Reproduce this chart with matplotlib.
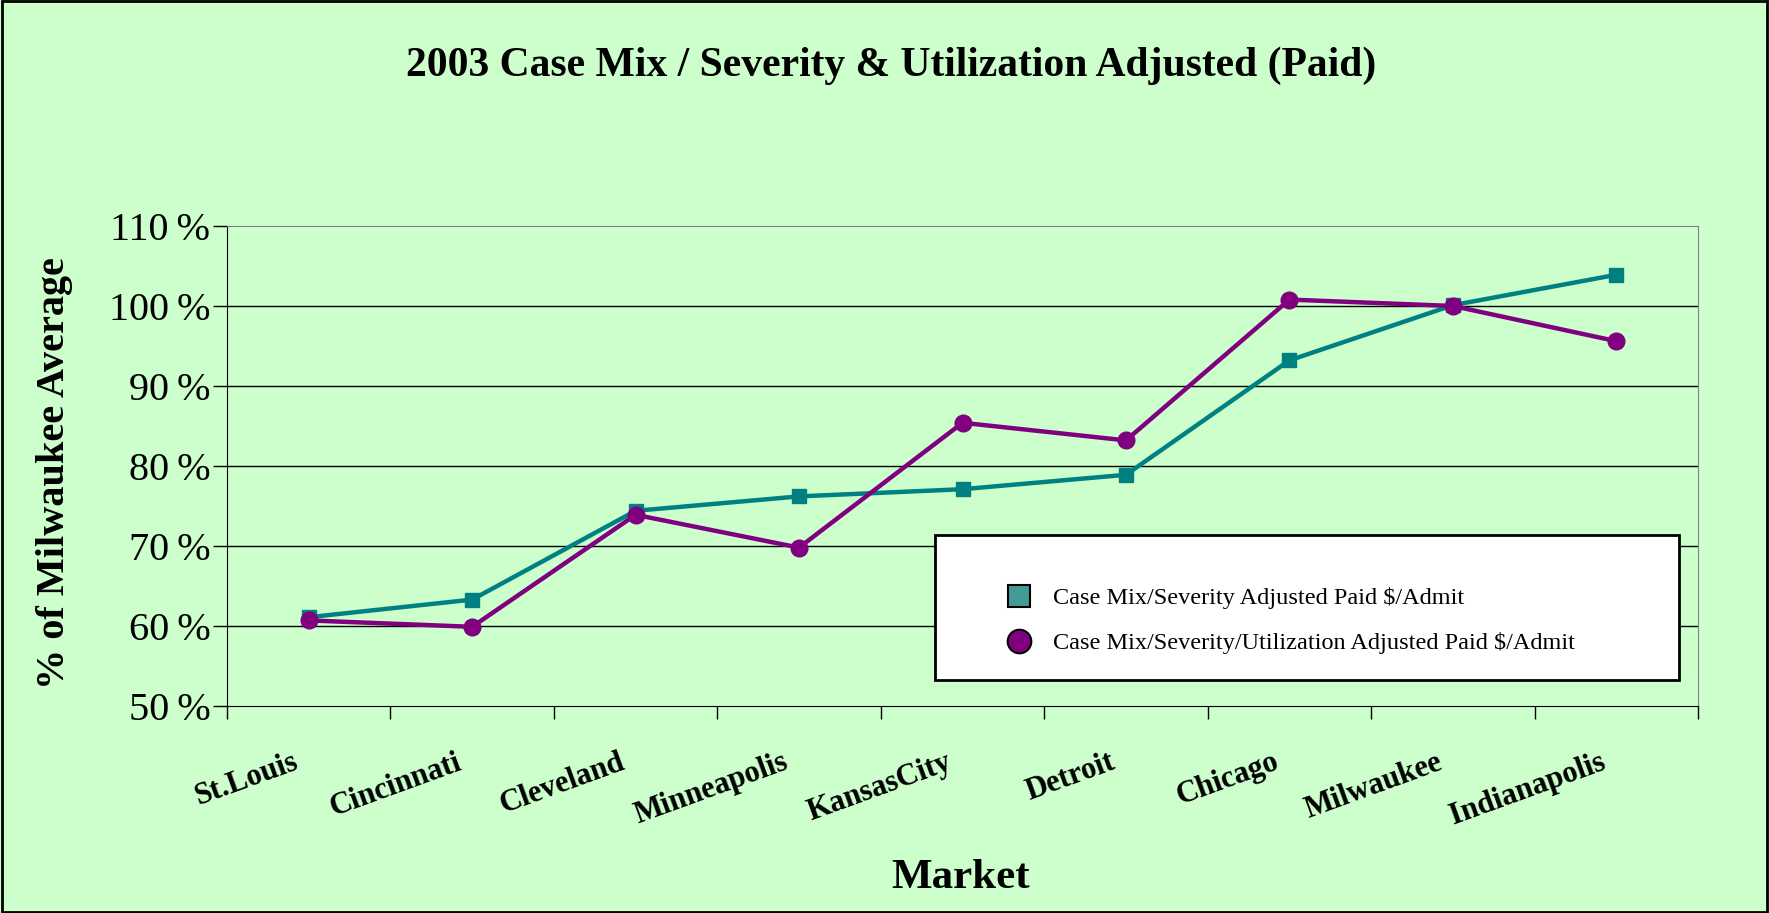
import numpy as np
import matplotlib
matplotlib.use("Agg")
import matplotlib.pyplot as plt
from matplotlib.lines import Line2D
from matplotlib.patches import Rectangle

markets = ["St.Louis", "Cincinnati", "Cleveland", "Minneapolis", "KansasCity",
           "Detroit", "Chicago", "Milwaukee", "Indianapolis"]
case_mix = [61.1, 63.3, 74.4, 76.2, 77.1, 78.9, 93.2, 100.1, 103.9]
utilization = [60.7, 59.9, 73.9, 69.8, 85.4, 83.2, 100.8, 100.0, 95.6]
yticks = [50, 60, 70, 80, 90, 100, 110]
labels = ["Case Mix/Severity Adjusted Paid $/Admit",
          "Case Mix/Severity/Utilization Adjusted Paid $/Admit"]

bg = "#CCFFCC"
teal = "#008080"
purple = "#800080"
serif = "Liberation Serif"

fig = plt.figure(figsize=(17.69, 9.13), dpi=100, facecolor=bg)
ax = fig.add_axes([0.1283, 0.2267, 0.9599 - 0.1283, 0.7525 - 0.2267])
ax.set_facecolor(bg)

x = np.arange(len(markets))
ax.plot(x, case_mix, color=teal, lw=3.2, marker="s", ms=10, mec=teal, mfc=teal, zorder=3)
ax.plot(x, utilization, color=purple, lw=3.2, marker="o", ms=12, mec=purple, mfc=purple, zorder=4)

ax.set_xlim(-0.5, len(markets) - 0.5)
ax.set_ylim(50, 110)
ax.set_yticks(yticks)
ax.set_yticklabels([f"{v}\u2009%" for v in yticks], family=serif, fontsize=29)
ax.tick_params(axis="y", direction="out", length=10, width=1, pad=2)

ax.set_xticks(x - 0.1)
ax.set_xticklabels(markets, family=serif, fontsize=22, fontweight="bold",
                   rotation=20, ha="right", va="top", rotation_mode="anchor")
ax.tick_params(axis="x", which="major", length=0, pad=30)
ax.set_xticks(np.arange(-0.5, len(markets)), minor=True)
ax.tick_params(axis="x", which="minor", direction="out", length=9, width=1)

for v in yticks[1:-1]:
    ax.axhline(v, color="black", lw=1, zorder=1)

for side in ["left", "bottom"]:
    ax.spines[side].set_color("black")
for side in ["top", "right"]:
    ax.spines[side].set_color("#808080")

fig.text(0.031, 0.482, "% of Milwaukee Average", family=serif, fontsize=29,
         fontweight="bold", rotation=90, ha="center", va="center")
fig.text(0.543, 0.038, "Market", family=serif, fontsize=31, fontweight="bold",
         ha="center", va="center")
fig.text(0.504, 0.928, "2003 Case Mix / Severity & Utilization Adjusted (Paid)",
         family=serif, fontsize=30, fontweight="bold", ha="center", va="center")

# legend box
box = Rectangle((935 / 1769, 1 - 680 / 913), (1679 - 935) / 1769, (680 - 535) / 913,
                transform=fig.transFigure, facecolor="white", edgecolor="black", lw=2, zorder=5)
fig.patches.append(box)
handles = [Line2D([], [], ls="none", marker="s", ms=16, mfc="#409C94", mec="black", mew=1.5),
           Line2D([], [], ls="none", marker="o", ms=17, mfc=purple, mec="black", mew=1.5)]
fig.legend(handles, labels, loc="upper left", bbox_to_anchor=(995 / 1769, 1 - 575 / 913),
           frameon=False, prop={"family": serif, "size": 17.5}, handletextpad=0.9,
           labelspacing=0.95, handlelength=1.0, borderpad=0)

fig.patches.append(Rectangle((0.001, 0.001), 0.998, 0.998, transform=fig.transFigure,
                             facecolor="none", edgecolor="black", lw=2))

fig.savefig("out.png", dpi=100, facecolor=bg)
